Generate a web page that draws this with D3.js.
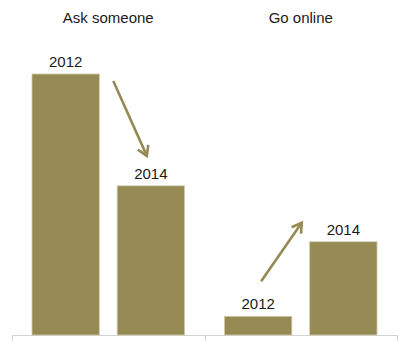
<!DOCTYPE html>
<html>
<head>
<meta charset="utf-8">
<script src="https://cdn.jsdelivr.net/npm/d3@7"></script>
<style>
  body { margin: 0; background: #fff; }
  text { font-family: "Liberation Sans", Arial, sans-serif; fill: #1a1a1a; }
</style>
</head>
<body>
<svg width="400" height="356"></svg>
<script>
var groups = ["Ask someone", "Go online"];
var years = ["2012", "2014"];
var askValues = [70, 40];
var onlineValues = [5, 25];

var svg = d3.select("svg"),
    baseY = 335,
    barColor = "#958a54";

var rows = [];
groups.forEach(function(g, i) {
  var vals = i === 0 ? askValues : onlineValues;
  years.forEach(function(y, j) { rows.push({group: g, year: y, value: vals[j]}); });
});

var x0 = d3.scaleBand().domain(groups).range([12, 397]);
var x1 = d3.scaleBand().domain(years).range([20, x0.bandwidth() - 20]).paddingInner(0.21);
var y = d3.scaleLinear().domain([0, 70]).range([baseY, 74]);

// axis line with group ticks
var axis = svg.append("g").attr("stroke", "#d2d2d2").attr("stroke-width", 1);
axis.append("line").attr("x1", 12).attr("x2", 397).attr("y1", baseY + 0.5).attr("y2", baseY + 0.5);
[12].concat(groups.map(function(g) { return x0(g) + x0.bandwidth(); })).forEach(function(t) {
  axis.append("line").attr("x1", Math.round(t) + 0.5).attr("x2", Math.round(t) + 0.5)
    .attr("y1", baseY).attr("y2", baseY + 6);
});

function bx(d) { return x0(d.group) + x1(d.year); }

svg.selectAll("rect.bar")
  .data(rows)
  .enter().append("rect")
  .attr("class", "bar")
  .attr("x", bx)
  .attr("y", function(d) { return y(d.value); })
  .attr("width", x1.bandwidth())
  .attr("height", function(d) { return baseY - y(d.value); })
  .attr("fill", barColor)
  .attr("stroke", "#cfc7a6")
  .attr("stroke-width", 0.8);

svg.selectAll("text.yr")
  .data(rows)
  .enter().append("text")
  .attr("class", "yr")
  .attr("x", function(d) { return bx(d) + x1.bandwidth() / 2; })
  .attr("y", function(d) { return y(d.value) - 7; })
  .attr("text-anchor", "middle")
  .style("font-size", "15px")
  .text(function(d) { return d.year; });

svg.selectAll("text.grp")
  .data(groups)
  .enter().append("text")
  .attr("class", "grp")
  .attr("x", function(g) { return x0(g) + x0.bandwidth() / 2; })
  .attr("y", 23)
  .attr("text-anchor", "middle")
  .style("font-size", "15px")
  .text(function(g) { return g; });

// trend arrows
function arrow(x1_, y1_, x2_, y2_) {
  var ang = Math.atan2(y2_ - y1_, x2_ - x1_), L = 11, spread = 0.55;
  svg.append("line").attr("x1", x1_).attr("y1", y1_).attr("x2", x2_).attr("y2", y2_)
    .attr("stroke", barColor).attr("stroke-width", 2.6);
  var p = [
    [x2_ - L * Math.cos(ang - spread), y2_ - L * Math.sin(ang - spread)],
    [x2_, y2_],
    [x2_ - L * Math.cos(ang + spread), y2_ - L * Math.sin(ang + spread)]
  ];
  svg.append("path").attr("d", d3.line()(p)).attr("fill", "none")
    .attr("stroke", barColor).attr("stroke-width", 2.6).attr("stroke-linejoin", "miter");
}

var a0 = rows[0], a1 = rows[1], o0 = rows[2], o1 = rows[3];
arrow(bx(a0) + x1.bandwidth() + 14, y(a0.value) + 7,
      bx(a1) + x1.bandwidth() / 2 - 4, y(a1.value) - 30);
arrow(bx(o0) + x1.bandwidth() / 2 + 3, y(o0.value) - 35,
      bx(o1) - 8, y(o1.value) - 19);
</script>
</body>
</html>
